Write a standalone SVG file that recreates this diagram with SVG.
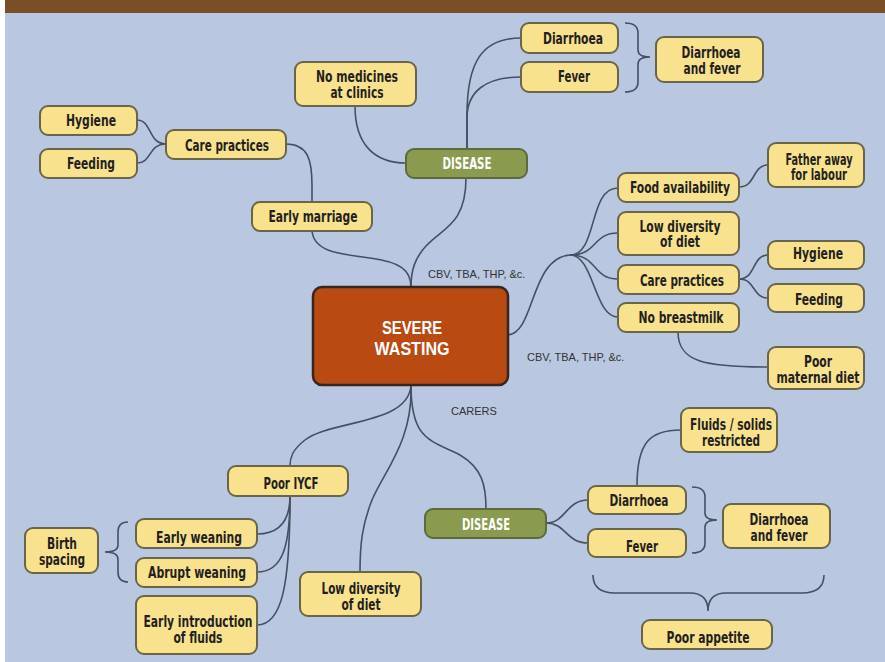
<svg xmlns="http://www.w3.org/2000/svg" width="885" height="662" viewBox="0 0 885 662">
<style>
.bg{fill:#B9C8E0}
.n rect{fill:#F9E28E;stroke:#6A6548;stroke-width:2}
.g rect{fill:#8A9A4F;stroke:#5D6A3A;stroke-width:2}
.c rect{fill:#B84A12;stroke:#35261E;stroke-width:2.5}
text{font-family:"DejaVu Sans Condensed","Liberation Sans",sans-serif;font-stretch:condensed;font-weight:bold;font-size:16px;text-anchor:middle;fill:#231F20}
.g text{fill:#FFFFFF}
.c text{fill:#FFFFFF;font-family:"Liberation Sans",sans-serif;font-stretch:normal;font-size:17.5px}
.lbl{font-family:"Liberation Sans",sans-serif;font-stretch:normal;font-weight:normal;font-size:11px;text-anchor:start;fill:#333333}
#connectors path{fill:none;stroke:#465063;stroke-width:1.6}
</style>
<rect class="bg" x="5" y="0" width="880" height="662"/>
<rect x="0" y="0" width="5" height="662" fill="#FFFFFF"/>
<rect x="5" y="0" width="880" height="13" fill="#7A4E27"/>

<g id="connectors">
<path d="M137,120 C152,120 148,144 166,144"/>
<path d="M137,163 C152,163 148,144 166,144"/>
<path d="M286,144 C308,144 312,160 312,185 L312,202"/>
<path d="M312,231 C314,252 340,254 370,258 C400,262 411,270 411,287"/>
<path d="M355,106 C355,145 375,163 406,163"/>
<path d="M467,149 L467,115 C467,62 482,38 521,38"/>
<path d="M467,149 L467,118 C467,92 485,77 521,77"/>
<path d="M466,178 C466,225 442,228 426,246 C415,258 411,270 411,287"/>
<path d="M625,23 Q638,23 638,33 L638,50 Q638,57 650,57 Q638,57 638,64 L638,82 Q638,92 625,92"/>
<path d="M508,335 C535,333 530,258 570,255"/>
<path d="M570,255 C598,255 588,188 618,188"/>
<path d="M570,255 C598,255 592,233 618,233"/>
<path d="M570,255 C598,255 592,279 618,279"/>
<path d="M570,255 C594,255 594,317 618,317"/>
<path d="M739,187 C756,187 752,165 768,165"/>
<path d="M739,279 C756,279 752,255 768,255"/>
<path d="M739,279 C756,279 752,298 768,298"/>
<path d="M678,332 C678,362 705,367 768,367"/>
<path d="M411,385 C409,425 330,420 305,440 C292,450 290,458 290,466"/>
<path d="M411,385 C413,440 385,470 372,500 C362,525 360,545 360,572"/>
<path d="M411,385 C411,440 430,440 460,455 C482,468 486,485 486,509"/>
<path d="M290,496 C290,525 275,534 257,534"/>
<path d="M290,496 C290,548 282,572 257,572"/>
<path d="M290,496 C290,585 282,625 257,625"/>
<path d="M546,523 C566,523 566,500 588,500"/>
<path d="M546,523 C566,523 566,543 588,543"/>
<path d="M637,486 C637,442 650,430 681,430"/>
<path d="M692,487 Q705,487 705,497 L705,513 Q705,520 717,520 Q705,520 705,527 L705,543 Q705,553 692,553"/>
<path d="M128,522 Q118,522 118,532 L118,545 Q118,552 105,552 Q118,552 118,559 L118,572 Q118,582 128,582"/>
<path d="M593,575 Q593,593 615,593 L690,593 Q708,593 708,611 Q708,593 726,593 L802,593 Q824,593 824,575"/>
</g>

<g id="n-nomed" class="n"><rect x="295" y="62" width="121" height="44" rx="8"/><text x="357" y="82" textLength="82" lengthAdjust="spacingAndGlyphs">No medicines</text><text x="357" y="98" textLength="53" lengthAdjust="spacingAndGlyphs">at clinics</text></g>
<g id="n-hygiene1" class="n"><rect x="40" y="106" width="97" height="29" rx="8"/><text x="91" y="126" textLength="50" lengthAdjust="spacingAndGlyphs">Hygiene</text></g>
<g id="n-feeding1" class="n"><rect x="40" y="149" width="97" height="29" rx="8"/><text x="91" y="169" textLength="48" lengthAdjust="spacingAndGlyphs">Feeding</text></g>
<g id="n-care1" class="n"><rect x="166" y="130" width="120" height="29" rx="8"/><text x="227" y="151" textLength="84" lengthAdjust="spacingAndGlyphs">Care practices</text></g>
<g id="n-marriage" class="n"><rect x="252" y="202" width="120" height="29" rx="8"/><text x="313" y="222" textLength="89" lengthAdjust="spacingAndGlyphs">Early marriage</text></g>
<g id="n-disease1" class="g"><rect x="406" y="149" width="121" height="29" rx="8"/><text x="467" y="169" textLength="49" lengthAdjust="spacingAndGlyphs">DISEASE</text></g>
<g id="n-diarrhoea1" class="n"><rect x="521" y="23" width="97" height="30" rx="8"/><text x="573" y="44" textLength="60" lengthAdjust="spacingAndGlyphs">Diarrhoea</text></g>
<g id="n-fever1" class="n"><rect x="521" y="62" width="97" height="30" rx="8"/><text x="574" y="82" textLength="32" lengthAdjust="spacingAndGlyphs">Fever</text></g>
<g id="n-df1" class="n"><rect x="656" y="37" width="107" height="45" rx="8"/><text x="711" y="58" textLength="59" lengthAdjust="spacingAndGlyphs">Diarrhoea</text><text x="712" y="74" textLength="57" lengthAdjust="spacingAndGlyphs">and fever</text></g>
<g id="n-father" class="n"><rect x="768" y="143" width="96" height="44" rx="8"/><text x="819" y="165" textLength="67" lengthAdjust="spacingAndGlyphs">Father away</text><text x="819" y="180" textLength="56" lengthAdjust="spacingAndGlyphs">for labour</text></g>
<g id="n-food" class="n"><rect x="618" y="173" width="121" height="29" rx="8"/><text x="680" y="193" textLength="100" lengthAdjust="spacingAndGlyphs">Food availability</text></g>
<g id="n-lowdiv1" class="n"><rect x="618" y="212" width="121" height="43" rx="8"/><text x="680" y="232" textLength="81" lengthAdjust="spacingAndGlyphs">Low diversity</text><text x="680" y="247" textLength="40" lengthAdjust="spacingAndGlyphs">of diet</text></g>
<g id="n-care2" class="n"><rect x="618" y="265" width="121" height="29" rx="8"/><text x="682" y="286" textLength="84" lengthAdjust="spacingAndGlyphs">Care practices</text></g>
<g id="n-breastmilk" class="n"><rect x="618" y="303" width="121" height="29" rx="8"/><text x="681" y="323" textLength="85" lengthAdjust="spacingAndGlyphs">No breastmilk</text></g>
<g id="n-hygiene2" class="n"><rect x="768" y="241" width="96" height="28" rx="8"/><text x="818" y="259" textLength="50" lengthAdjust="spacingAndGlyphs">Hygiene</text></g>
<g id="n-feeding2" class="n"><rect x="768" y="284" width="96" height="28" rx="8"/><text x="819" y="305" textLength="48" lengthAdjust="spacingAndGlyphs">Feeding</text></g>
<g id="n-maternal" class="n"><rect x="768" y="347" width="96" height="42" rx="8"/><text x="818" y="367" textLength="28" lengthAdjust="spacingAndGlyphs">Poor</text><text x="818" y="383" textLength="83" lengthAdjust="spacingAndGlyphs">maternal diet</text></g>
<g id="n-severe" class="c"><rect x="313" y="287" width="195" height="98" rx="9"/><text x="412" y="334" textLength="60" lengthAdjust="spacingAndGlyphs">SEVERE</text><text x="412" y="355" textLength="75" lengthAdjust="spacingAndGlyphs">WASTING</text></g>
<g id="n-fluids" class="n"><rect x="681" y="408" width="96" height="44" rx="8"/><text x="731" y="430" textLength="82" lengthAdjust="spacingAndGlyphs">Fluids / solids</text><text x="731" y="446" textLength="58" lengthAdjust="spacingAndGlyphs">restricted</text></g>
<g id="n-diarrhoea2" class="n"><rect x="588" y="486" width="98" height="28" rx="8"/><text x="639" y="506" textLength="59" lengthAdjust="spacingAndGlyphs">Diarrhoea</text></g>
<g id="n-fever2" class="n"><rect x="588" y="529" width="98" height="28" rx="8"/><text x="642" y="552" textLength="32" lengthAdjust="spacingAndGlyphs">Fever</text></g>
<g id="n-df2" class="n"><rect x="723" y="504" width="107" height="44" rx="8"/><text x="779" y="525" textLength="59" lengthAdjust="spacingAndGlyphs">Diarrhoea</text><text x="779" y="541" textLength="57" lengthAdjust="spacingAndGlyphs">and fever</text></g>
<g id="n-disease2" class="g"><rect x="425" y="509" width="121" height="29" rx="8"/><text x="486" y="530" textLength="48" lengthAdjust="spacingAndGlyphs">DISEASE</text></g>
<g id="n-appetite" class="n"><rect x="642" y="620" width="130" height="29" rx="8"/><text x="708" y="643" textLength="83" lengthAdjust="spacingAndGlyphs">Poor appetite</text></g>
<g id="n-iycf" class="n"><rect x="228" y="466" width="120" height="30" rx="8"/><text x="291" y="489" textLength="55" lengthAdjust="spacingAndGlyphs">Poor IYCF</text></g>
<g id="n-earlyweaning" class="n"><rect x="136" y="519" width="121" height="29" rx="8"/><text x="199" y="543" textLength="86" lengthAdjust="spacingAndGlyphs">Early weaning</text></g>
<g id="n-abrupt" class="n"><rect x="136" y="558" width="121" height="29" rx="8"/><text x="197" y="578" textLength="98" lengthAdjust="spacingAndGlyphs">Abrupt weaning</text></g>
<g id="n-earlyintro" class="n"><rect x="136" y="596" width="121" height="58" rx="8"/><text x="198" y="627" textLength="109" lengthAdjust="spacingAndGlyphs">Early introduction</text><text x="198" y="643" textLength="49" lengthAdjust="spacingAndGlyphs">of fluids</text></g>
<g id="n-birth" class="n"><rect x="25" y="528" width="73" height="45" rx="8"/><text x="62" y="549" textLength="30" lengthAdjust="spacingAndGlyphs">Birth</text><text x="62" y="565" textLength="46" lengthAdjust="spacingAndGlyphs">spacing</text></g>
<g id="n-lowdiv2" class="n"><rect x="300" y="572" width="121" height="44" rx="8"/><text x="361" y="594" textLength="79" lengthAdjust="spacingAndGlyphs">Low diversity</text><text x="361" y="610" textLength="39" lengthAdjust="spacingAndGlyphs">of diet</text></g>

<g id="labels">
<text class="lbl" x="428" y="278">CBV, TBA, THP, &amp;c.</text>
<text class="lbl" x="527" y="361">CBV, TBA, THP, &amp;c.</text>
<text class="lbl" x="451" y="415">CARERS</text>
</g>
</svg>
